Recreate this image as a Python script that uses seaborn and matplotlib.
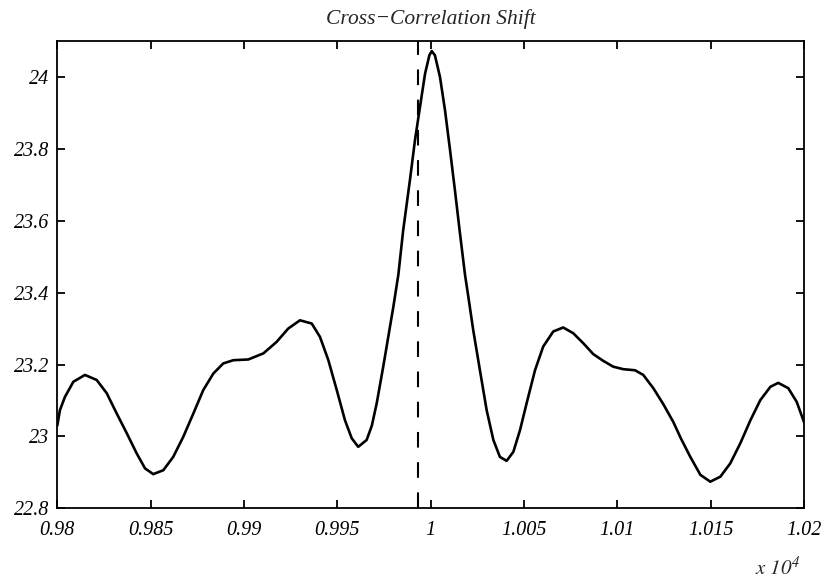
import matplotlib
matplotlib.use("Agg")
import matplotlib.pyplot as plt
import seaborn as sns
import pandas as pd

# ---- data ----
shift = [9800, 9801.4, 9804.1, 9808.6, 9814.8, 9821.1, 9826.5, 9831.8, 9837.2, 9842.5,
         9847.0, 9851.4, 9856.8, 9862.1, 9867.5, 9872.9, 9878.2, 9883.6, 9888.9, 9894.3,
         9902.3, 9910.4, 9917.5, 9923.7, 9930.0, 9936.3, 9940.7, 9945.2, 9949.7, 9954.1,
         9957.7, 9961.2, 9965.7, 9968.5, 9971.1, 9974.6, 9977.3, 9980.0, 9982.7, 9985.3,
         9988.9, 9991.6, 9994.3, 9997.0, 9999.3, 10000.6, 10002.3, 10005.0, 10007.7, 10010.4,
         10013.0, 10015.7, 10018.4, 10020.2, 10022.8, 10026.4, 10030.0, 10033.6, 10037.1, 10040.7,
         10044.3, 10047.9, 10051.4, 10055.9, 10060.3, 10065.7, 10071.0, 10076.4, 10081.8, 10087.1,
         10092.5, 10097.8, 10103.2, 10109.5, 10113.9, 10119.3, 10124.6, 10130.0, 10134.0, 10139.1,
         10144.5, 10149.8, 10155.2, 10160.5, 10165.9, 10171.3, 10176.6, 10182.0, 10186.2, 10191.6,
         10196.1, 10200.0]
corr = [23.030, 23.073, 23.110, 23.152, 23.171, 23.157, 23.120, 23.064, 23.009, 22.953,
        22.911, 22.895, 22.906, 22.943, 22.999, 23.064, 23.129, 23.175, 23.203, 23.212,
        23.214, 23.231, 23.263, 23.300, 23.323, 23.314, 23.277, 23.212, 23.129, 23.045,
        22.995, 22.971, 22.990, 23.030, 23.092, 23.194, 23.277, 23.360, 23.450, 23.574,
        23.713, 23.824, 23.917, 24.009, 24.060, 24.072, 24.060, 24.000, 23.907, 23.796,
        23.685, 23.565, 23.450, 23.388, 23.296, 23.184, 23.073, 22.990, 22.943, 22.932,
        22.957, 23.018, 23.092, 23.184, 23.250, 23.292, 23.303, 23.287, 23.259, 23.229,
        23.210, 23.194, 23.187, 23.184, 23.171, 23.134, 23.090, 23.040, 22.995, 22.943,
        22.893, 22.874, 22.888, 22.925, 22.981, 23.045, 23.101, 23.138, 23.149, 23.134,
        23.096, 23.040]
marker_shift = 9993

x_ticks = [9800, 9850, 9900, 9950, 10000, 10050, 10100, 10150, 10200]
x_tick_labels = ["0.98", "0.985", "0.99", "0.995", "1", "1.005", "1.01", "1.015", "1.02"]
y_ticks = [22.8, 23.0, 23.2, 23.4, 23.6, 23.8, 24.0]
y_tick_labels = ["22.8", "23", "23.2", "23.4", "23.6", "23.8", "24"]
title_text = "Cross\u2212Correlation Shift"
offset_text = r"$\mathit{x\ 10^{4}}$"

df = pd.DataFrame({"shift": shift, "corr": corr})

# ---- style ----
sns.set_style("ticks")
plt.rcParams["font.family"] = ["Liberation Serif", "DejaVu Serif"]
plt.rcParams["font.style"] = "italic"
plt.rcParams["mathtext.fontset"] = "stix"

fig = plt.figure(figsize=(8.26, 5.80), dpi=100)
ax = fig.add_axes([57.3 / 826, 1 - 508.3 / 580, (804 - 57.3) / 826, (508.3 - 41) / 580])

sns.lineplot(data=df, x="shift", y="corr", ax=ax, color="black", linewidth=1.9,
             sort=False, estimator=None)
ax.axvline(marker_shift, color="black", linewidth=1.5, dashes=(7.5, 7.0))

ax.set_xlim(9800, 10200)
ax.set_ylim(22.8, 24.1)
ax.set_xticks(x_ticks)
ax.set_xticklabels(x_tick_labels)
ax.set_yticks(y_ticks)
ax.set_yticklabels(y_tick_labels)
ax.set_xlabel("")
ax.set_ylabel("")

for s in ax.spines.values():
    s.set_visible(True)
    s.set_color("black")
    s.set_linewidth(1.3)

ax.tick_params(axis="both", which="major", direction="in", length=6, width=1.3,
               top=True, right=True, labelsize=14.5, colors="black")
ax.tick_params(axis="x", pad=9)
ax.tick_params(axis="y", pad=6)
for lab in ax.get_xticklabels() + ax.get_yticklabels():
    lab.set_fontstyle("italic")

ax.set_title(title_text, fontsize=15.5, fontstyle="italic", pad=12)
fig.text(800 / 826, 5 / 580, offset_text, fontsize=15, ha="right", va="baseline")

fig.savefig("out.png", dpi=100)
